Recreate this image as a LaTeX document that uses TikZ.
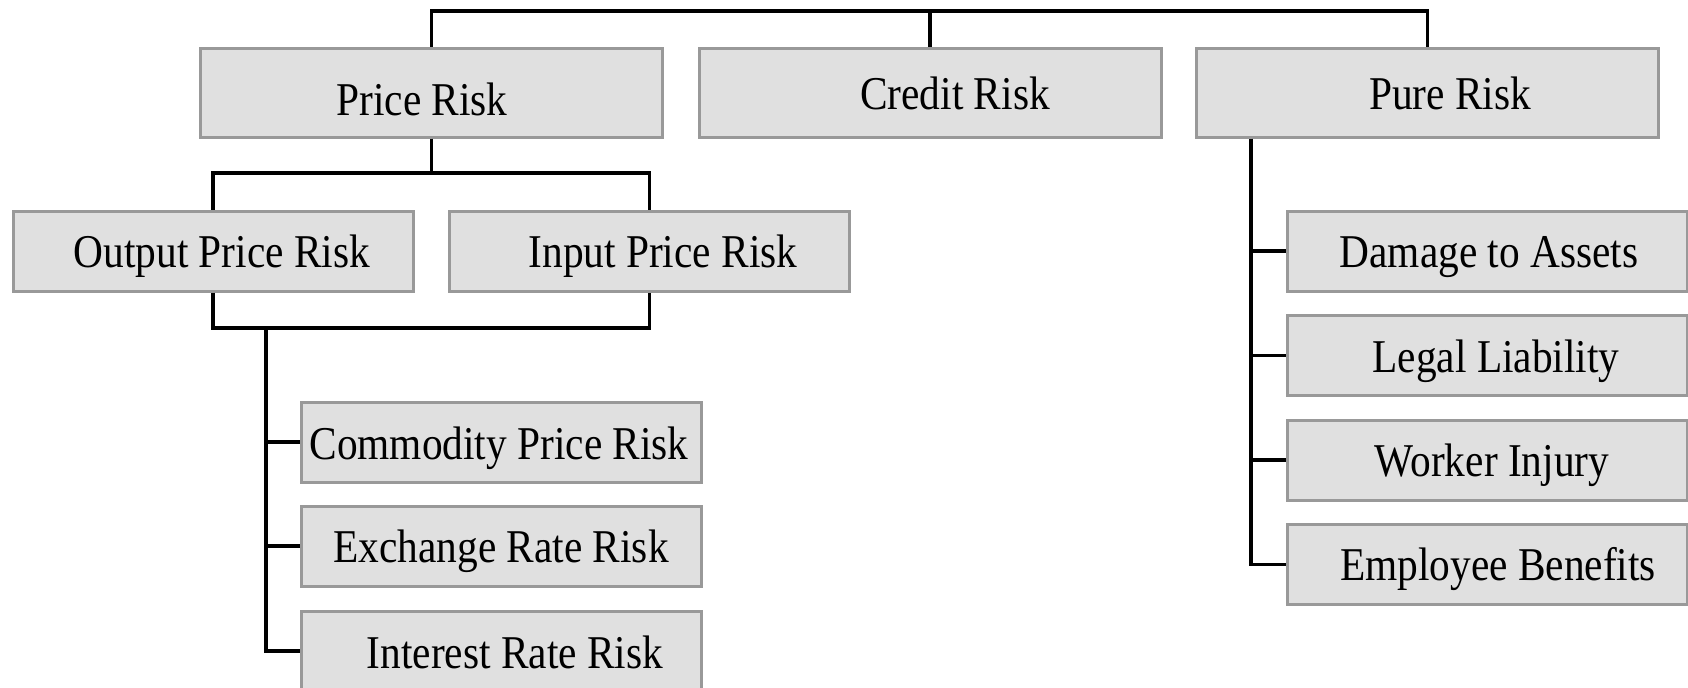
\documentclass[tikz,border=0pt]{standalone}
\usepackage{fontspec}
\setmainfont{Liberation Serif}[FakeStretch=0.88]
\definecolor{boxfill}{HTML}{E0E0E0}
\definecolor{boxline}{HTML}{999999}
\begin{document}
\begin{tikzpicture}[x=0.5pt,y=-0.5pt,
  box/.style={draw=boxline,fill=boxfill,line width=1.5pt,inner sep=0pt,
    minimum width=200pt,minimum height=40pt},
  bigbox/.style={box,minimum width=231pt,minimum height=44.5pt},
  lbl/.style={anchor=base,inner sep=0pt,font=\fontsize{23.5}{28}\selectfont},
  link/.style={draw=black,line width=1.6pt}]
\useasboundingbox (0,0) rectangle (1688,687);
\clip (0,0) rectangle (1688,687);

% top level
\node[bigbox] (price)  at (431.5,92.5) {};
\node[bigbox] (credit) at (930,92.5) {};
\node[bigbox] (pure)   at (1427.5,92.5) {};
\node[lbl] at (422,115)  {Price Risk};
\node[lbl] at (955,109)  {Credit Risk};
\node[lbl] at (1450,109) {Pure Risk};

% price risk branch
\node[box] (output) at (213,251)   {};
\node[box] (input)  at (649.5,251) {};
\node[lbl] at (222,267) {Output Price Risk};
\node[lbl] at (663,267) {Input Price Risk};

\node[box] (commodity) at (501.5,442) {};
\node[box] (exchange)  at (501.5,546) {};
\node[box] (interest)  at (501.5,651) {};
\node[lbl] at (499,459) {Commodity Price Risk};
\node[lbl] at (501,562) {Exchange Rate Risk};
\node[lbl] at (515,668) {Interest Rate Risk};

% pure risk branch
\node[box] (damage)   at (1487.5,251)   {};
\node[box] (legal)    at (1487.5,355.5) {};
\node[box] (worker)   at (1487.5,460)   {};
\node[box] (employee) at (1487.5,564.5) {};
\node[lbl] at (1489,267) {Damage to Assets};
\node[lbl] at (1496,372) {Legal Liability};
\node[lbl] at (1492,476) {Worker Injury};
\node[lbl] at (1498,580) {Employee Benefits};

% connectors
\coordinate (top) at (930,11);
\path[link] (price.north) |- (top) -| (pure.north);
\path[link] (credit.north) -- (credit.north |- top);

\coordinate (pjoin) at (431.5,173);
\path[link] (price.south) -- (pjoin);
\path[link] (output.north) |- (pjoin) -| (input.north);

\coordinate (bjoin) at (431.5,328);
\path[link] (output.south) |- (bjoin) -| (input.south);
\coordinate (spine) at (266,328);
\path[link] (spine) |- (interest.west);
\path[link] (spine |- commodity.west) -- (commodity.west);
\path[link] (spine |- exchange.west) -- (exchange.west);

\coordinate (pspine) at ([xshift=28pt]pure.south west);
\path[link] (pspine) |- (employee.west);
\path[link] (pspine |- damage.west) -- (damage.west);
\path[link] (pspine |- legal.west) -- (legal.west);
\path[link] (pspine |- worker.west) -- (worker.west);
\end{tikzpicture}
\end{document}
